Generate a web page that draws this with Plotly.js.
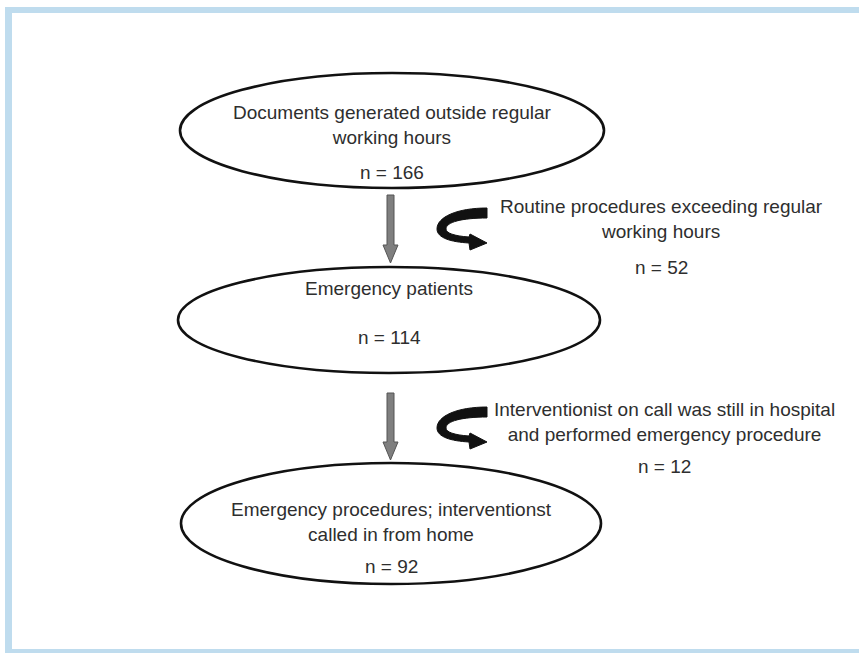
<!DOCTYPE html>
<html>
<head>
<meta charset="utf-8">
<script src="https://cdn.plot.ly/plotly-3.0.1.min.js"></script>
<style>html,body{margin:0;padding:0;background:#fff;}#chart{width:859px;height:653px;}</style>
</head>
<body>
<div id="chart"></div>
<script>
// ---- data ----
var stageLabels = ["Documents generated outside regular<br>working hours", "Emergency patients", "Emergency procedures; interventionst<br>called in from home"];
var stageCounts = [166, 114, 92];
var exclusionLabels = ["Routine procedures exceeding regular<br>working hours", "Interventionist on call was still in hospital<br>and performed emergency procedure"];
var exclusionCounts = [52, 12];

// ---- layout geometry (pixels) ----
var ellipses = [
  {x0: 180, x1: 604, y0: 73, y1: 188, textY: 125, nY: 172},
  {x0: 178, x1: 600, y0: 267, y1: 373, textY: 288, nY: 337},
  {x0: 181, x1: 601, y0: 463, y1: 584, textY: 521.5, nY: 566}
];
var downArrows = [{x: 390.5, y0: 195, y1: 263}, {x: 390.5, y0: 393, y1: 460}];
var curveArrows = [{ox: 437, oy: 207, textX: 661, textY: 219, nY: 267}, {ox: 437, oy: 406, textX: 664, textY: 421.5, nY: 466}];

var FONT = "Liberation Sans, Arial, sans-serif";
var TXT = "#2e2e2e";
var FS = 19;
var shapes = [];
var annotations = [];

// frame
var frameCol = "#bfdcee";
shapes.push({type: "rect", xref: "x", yref: "y", x0: 5, x1: 859, y0: 7, y1: 13, fillcolor: frameCol, line: {width: 0}, layer: "below"});
shapes.push({type: "rect", xref: "x", yref: "y", x0: 5, x1: 12, y0: 7, y1: 653, fillcolor: frameCol, line: {width: 0}, layer: "below"});
shapes.push({type: "rect", xref: "x", yref: "y", x0: 5, x1: 859, y0: 649, y1: 653, fillcolor: frameCol, line: {width: 0}, layer: "below"});

ellipses.forEach(function (e, i) {
  shapes.push({type: "circle", xref: "x", yref: "y", x0: e.x0, x1: e.x1, y0: e.y0, y1: e.y1,
    line: {color: "#111", width: 2.6}, fillcolor: "rgba(0,0,0,0)"});
  var cx = (e.x0 + e.x1) / 2;
  annotations.push({x: cx, y: e.textY, xref: "x", yref: "y", text: stageLabels[i], showarrow: false,
    font: {family: FONT, size: FS, color: TXT}, align: "center", yanchor: "middle"});
  annotations.push({x: cx, y: e.nY, xref: "x", yref: "y", text: "n = " + stageCounts[i], showarrow: false,
    font: {family: FONT, size: FS, color: TXT}, yanchor: "middle"});
});

downArrows.forEach(function (a) {
  var hs = a.y1 - 18;
  var p = "M " + (a.x - 3.5) + "," + a.y0 + " L " + (a.x + 3.5) + "," + a.y0 + " L " + (a.x + 3.5) + "," + hs +
    " L " + (a.x + 7.5) + "," + hs + " L " + a.x + "," + a.y1 + " L " + (a.x - 7.5) + "," + hs +
    " L " + (a.x - 3.5) + "," + hs + " Z";
  shapes.push({type: "path", xref: "x", yref: "y", path: p, fillcolor: "#7f7f7f", line: {color: "#555", width: 1}});
});

curveArrows.forEach(function (c, i) {
  var P = function (x, y) { return (c.ox + x) + "," + (c.oy + y); };
  var p = "M " + P(50, 1) + " C " + P(20, 1) + " " + P(0, 10) + " " + P(0, 22) +
    " C " + P(0, 31) + " " + P(14, 35) + " " + P(32, 36) +
    " L " + P(33, 43) + " L " + P(50, 36) + " L " + P(33, 27) + " L " + P(32, 30) +
    " C " + P(17, 29) + " " + P(9, 26) + " " + P(9, 22) +
    " C " + P(9, 15) + " " + P(25, 11) + " " + P(50, 11) + " Z";
  shapes.push({type: "path", xref: "x", yref: "y", path: p, fillcolor: "#111", line: {color: "#111", width: 1}});
  annotations.push({x: c.textX, y: c.textY, xref: "x", yref: "y", text: exclusionLabels[i], showarrow: false,
    font: {family: FONT, size: FS, color: TXT}, align: "center", yanchor: "middle"});
  annotations.push({x: c.textX, y: c.nY, xref: "x", yref: "y", text: "n = " + exclusionCounts[i], showarrow: false,
    font: {family: FONT, size: FS, color: TXT}, yanchor: "middle"});
});

var layout = {
  width: 859, height: 653,
  margin: {l: 0, r: 0, t: 0, b: 0},
  paper_bgcolor: "#fff", plot_bgcolor: "#fff",
  xaxis: {range: [0, 859], visible: false, fixedrange: true},
  yaxis: {range: [653, 0], visible: false, fixedrange: true},
  shapes: shapes,
  annotations: annotations,
  showlegend: false
};
Plotly.newPlot("chart", [{x: [], y: [], type: "scatter"}], layout, {displayModeBar: false, staticPlot: true});
</script>
</body>
</html>
